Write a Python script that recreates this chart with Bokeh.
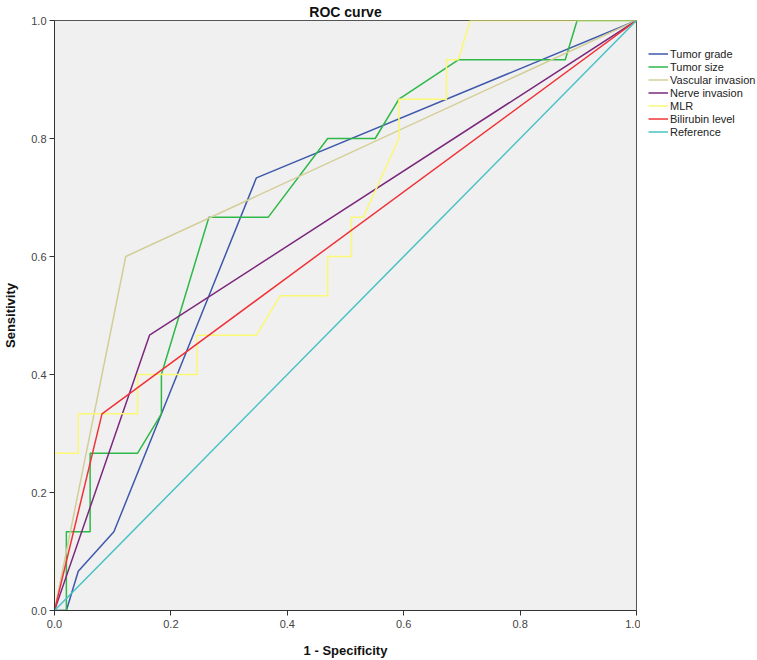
from bokeh.plotting import figure
from bokeh.layouts import row
from bokeh.models import Legend, LegendItem, FixedTicker, CustomJSTickFormatter, Range1d
from bokeh.embed import file_html
from bokeh.resources import INLINE

# ROC coordinates (1 - specificity, sensitivity); 49 negatives, 15 positives
N = 49.0
P = 15.0

grade_x = [0, 1/N, 2/N, 5/N, 17/N, 1]
grade_y = [0, 0, 1/P, 2/P, 11/P, 1]

size_x = [0, 1/N, 1/N, 3/N, 3/N, 7/N, 9/N, 9/N, 13/N, 18/N, 23/N, 27/N, 29/N, 34/N, 43/N, 44/N, 1]
size_y = [0, 0, 2/P, 2/P, 4/P, 4/P, 5/P, 6/P, 10/P, 10/P, 12/P, 12/P, 13/P, 14/P, 14/P, 1, 1]

vascular_x = [0, 6/N, 1]
vascular_y = [0, 9/P, 1]

nerve_x = [0, 8/N, 1]
nerve_y = [0, 7/P, 1]

mlr_x = [0, 0, 2/N, 2/N, 7/N, 7/N, 12/N, 12/N, 17/N, 19/N, 23/N, 23/N, 25/N, 25/N,
         26/N, 29/N, 29/N, 33/N, 33/N, 34/N, 35/N, 1]
mlr_y = [0, 4/P, 4/P, 5/P, 5/P, 6/P, 6/P, 7/P, 7/P, 8/P, 8/P, 9/P, 9/P, 10/P,
         10/P, 12/P, 13/P, 13/P, 14/P, 14/P, 1, 1]

bilirubin_x = [0, 4/N, 1]
bilirubin_y = [0, 5/P, 1]

reference_x = [0, 1]
reference_y = [0, 1]

series = [
    ("Tumor grade", grade_x, grade_y, "#3E58AC"),
    ("Tumor size", size_x, size_y, "#2EB848"),
    ("Vascular invasion", vascular_x, vascular_y, "#D3CE97"),
    ("Nerve invasion", nerve_x, nerve_y, "#7C287D"),
    ("MLR", mlr_x, mlr_y, "#FBF873"),
    ("Bilirubin level", bilirubin_x, bilirubin_y, "#EF3338"),
    ("Reference", reference_x, reference_y, "#48C2C5"),
]

ticks = [0.0, 0.2, 0.4, 0.6, 0.8, 1.0]
FONT = "Liberation Sans"

p = figure(width=640, height=660, output_backend="svg", toolbar_location=None,
           x_range=Range1d(0, 1), y_range=Range1d(0, 1), title="ROC curve",
           min_border_left=46, min_border_right=4, min_border_top=19, min_border_bottom=46)

p.title.align = "center"
p.title.text_font = FONT
p.title.text_font_size = "14px"
p.title.text_font_style = "bold"
p.title.text_color = "#111111"
p.title.standoff = 2

p.background_fill_color = "#F0F0F0"
p.border_fill_color = "white"
p.outline_line_color = "#555555"
p.outline_line_width = 1
p.grid.visible = False

fmt = CustomJSTickFormatter(code="return tick.toFixed(1);")
for ax in (p.xaxis[0], p.yaxis[0]):
    ax.ticker = FixedTicker(ticks=ticks)
    ax.formatter = fmt
    ax.minor_tick_line_color = None
    ax.major_tick_in = 0
    ax.major_tick_out = 5
    ax.major_tick_line_color = "#333333"
    ax.axis_line_color = "#333333"
    ax.major_label_text_font = FONT
    ax.major_label_text_font_size = "11px"
    ax.major_label_text_color = "#444444"
    ax.axis_label_text_font = FONT
    ax.axis_label_text_font_size = "13px"
    ax.axis_label_text_font_style = "bold"
    ax.axis_label_text_color = "#111111"

p.xaxis.axis_label = "1 - Specificity"
p.yaxis.axis_label = "Sensitivity"
p.xaxis.major_label_standoff = 4
p.yaxis.major_label_standoff = 3
p.xaxis.axis_label_standoff = 12
p.yaxis.axis_label_standoff = 10

for name, xs, ys, color in series:
    p.line(xs, ys, line_color=color, line_width=1.5)

# side panel holding the legend, to the right of the plot
side = figure(width=117, height=660, output_backend="svg", toolbar_location=None,
              x_range=Range1d(0, 1), y_range=Range1d(0, 1),
              min_border_left=0, min_border_right=0, min_border_top=0, min_border_bottom=0)
side.axis.visible = False
side.grid.visible = False
side.outline_line_color = None
side.background_fill_color = "white"
side.border_fill_color = "white"

nan = float("nan")
items = []
for name, xs, ys, color in series:
    # legend-key renderer: same line style, no visible segment in this panel
    r = side.line(x=[nan], y=[nan], line_color=color, line_width=1.5)
    items.append(LegendItem(label=name, renderers=[r]))

legend = Legend(items=items, location=(8, 472), border_line_color=None,
                background_fill_alpha=0, label_text_font=FONT, label_text_font_size="11px",
                label_text_color="#222222", label_height=13, glyph_height=13, glyph_width=20,
                spacing=0, padding=0, margin=0, label_standoff=2)
side.add_layout(legend)

layout = row(p, side)
open("out.html", "w").write(file_html(layout, INLINE))
